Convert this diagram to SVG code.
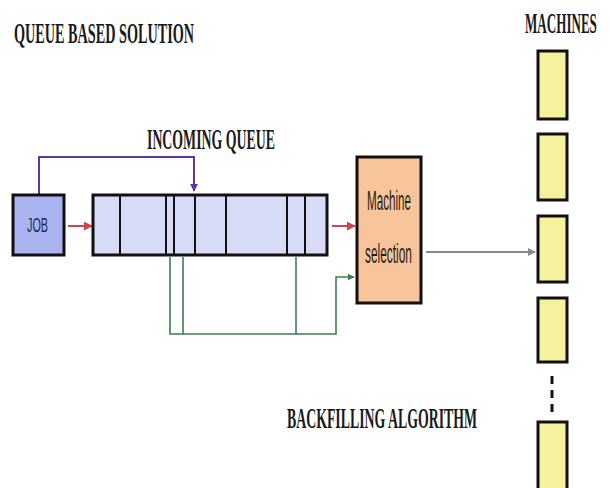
<svg xmlns="http://www.w3.org/2000/svg" width="610" height="488" viewBox="0 0 610 488">
<defs>
<style>
.ttl{font-family:"Liberation Serif","Times New Roman",serif;font-weight:bold;font-size:30px;fill:#1a1a1a}
.lbl{font-family:"Liberation Sans",Arial,sans-serif;font-size:27px;fill:#2a1d12}
.mach{fill:#f4f29c;stroke:#111;stroke-width:3}
.cell{stroke:#111;stroke-width:2}
.red{fill:none;stroke:#d0424c;stroke-width:2}
.grn{fill:none;stroke:#3b7d4c;stroke-width:1.6}
</style>
<marker id="ar" viewBox="0 0 10 10" refX="9" refY="5" markerWidth="4.5" markerHeight="4.5" orient="auto"><path d="M0,0 L10,5 L0,10 z" fill="#d0424c"/></marker>
<marker id="ag" viewBox="0 0 10 10" refX="9" refY="5" markerWidth="4.5" markerHeight="4.5" orient="auto"><path d="M0,0 L10,5 L0,10 z" fill="#3b7d4c"/></marker>
<marker id="ap" viewBox="0 0 10 10" refX="9" refY="5" markerWidth="4" markerHeight="4" orient="auto"><path d="M0,0 L10,5 L0,10 z" fill="#5b36a8"/></marker>
<marker id="ay" viewBox="0 0 10 10" refX="9" refY="5" markerWidth="4" markerHeight="4" orient="auto"><path d="M0,0 L10,5 L0,10 z" fill="#888"/></marker>
</defs>
<rect width="610" height="488" fill="#fff"/>
<g id="texts">
<text class="ttl" transform="translate(14,43) scale(0.474,1)">QUEUE BASED SOLUTION</text>
<text class="ttl" transform="translate(525,33) scale(0.436,1)">MACHINES</text>
<text class="ttl" transform="translate(147,149) scale(0.461,1)">INCOMING QUEUE</text>
<text class="ttl" transform="translate(287,428) scale(0.461,1)">BACKFILLING ALGORITHM</text>
</g>
<g id="connectors">
<line class="red" x1="68" y1="226" x2="92" y2="226" marker-end="url(#ar)"/>
<line class="red" x1="332" y1="226" x2="355" y2="226" marker-end="url(#ar)"/>
<path d="M39,194 V157 H194 V191" fill="none" stroke="#5b36a8" stroke-width="2" marker-end="url(#ap)"/>
<path class="grn" d="M170,257 V334 H336 V277 H354" marker-end="url(#ag)"/>
<line class="grn" x1="183" y1="257" x2="183" y2="334"/>
<line class="grn" x1="296" y1="257" x2="296" y2="334"/>
<line x1="426" y1="252" x2="535" y2="252" stroke="#888" stroke-width="2" marker-end="url(#ay)"/>
</g>
<g id="job">
<rect x="13" y="195" width="51" height="60" fill="#aab2f0" stroke="#111" stroke-width="3"/>
<text transform="translate(27,232) scale(0.515,1)" font-family="'Liberation Sans',Arial,sans-serif" font-size="21" fill="#1f2a5a">JOB</text>
</g>
<g id="queue">
<rect x="93" y="195" width="234" height="60" fill="#d7dbf8" stroke="#111" stroke-width="3"/>
<line class="cell" x1="120" y1="195" x2="120" y2="255"/>
<line class="cell" x1="166" y1="195" x2="166" y2="255"/>
<line class="cell" x1="174" y1="195" x2="174" y2="255"/>
<line class="cell" x1="195" y1="195" x2="195" y2="255"/>
<line class="cell" x1="226" y1="195" x2="226" y2="255"/>
<line class="cell" x1="287" y1="195" x2="287" y2="255"/>
<line class="cell" x1="305" y1="195" x2="305" y2="255"/>
</g>
<g id="machine-selection">
<rect x="357" y="157" width="64" height="146" fill="#f7c49c" stroke="#111" stroke-width="3"/>
<text class="lbl" transform="translate(367,210) scale(0.431,1)">Machine</text>
<text class="lbl" transform="translate(365,263) scale(0.441,1)">selection</text>
</g>
<g id="machines">
<rect class="mach" x="538" y="51" width="29" height="68"/>
<rect class="mach" x="538" y="134" width="29" height="66"/>
<rect class="mach" x="538" y="216" width="29" height="66"/>
<rect class="mach" x="538" y="298" width="29" height="64"/>
<line x1="552" y1="376" x2="552" y2="413" stroke="#111" stroke-width="3" stroke-dasharray="8 6"/>
<rect class="mach" x="538" y="422" width="29" height="70"/>
</g>
</svg>
